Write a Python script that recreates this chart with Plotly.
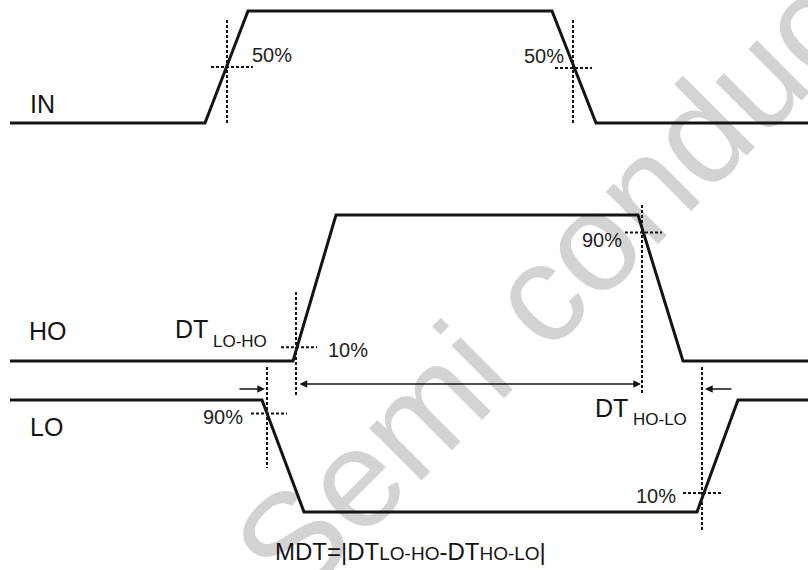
import plotly.graph_objects as go

# ---------------- data (time in arbitrary units, logic levels 0/1) ----------------
IN_t = [10, 205, 248, 552, 596, 808]
IN_lv = [0, 0, 1, 1, 0, 0]
HO_t = [10, 293, 336, 638, 683, 808]
HO_lv = [0, 0, 1, 1, 0, 0]
LO_t = [10, 262, 304, 697, 738, 808]
LO_lv = [1, 1, 0, 0, 1, 1]

signal_names = ["IN", "HO", "LO"]

# threshold markers: signal, crossing time, crossing level (fraction), label
mark_sig = ["IN", "IN", "HO", "HO", "LO", "LO"]
mark_t = [227, 573, 296, 642, 267, 702]
mark_lv = [0.5, 0.49, 0.095, 0.88, 0.88, 0.17]
mark_lbl = ["50%", "50%", "10%", "90%", "90%", "10%"]

# ---------------- layout constants (vertical placement of each trace) ----------------
BASE = {"IN": 447, "HO": 209, "LO": 58}
AMP = {"IN": 112, "HO": 146, "LO": 112}
W, H = 808, 570

# guide extents (vertical top/bottom, horizontal left/right offsets) per marker
V_TOP = [550, 550, 278, 365, 203, 203]
V_BOT = [447, 447, 175, 176, 102, 40]
H_L = [16, 18, 15, 17, 16, 19]
H_R = [26, 19, 21, 20, 20, 19]
# label anchor: side and offsets
LBL_SIDE = ["right", "left", "right", "left", "left", "left"]
LBL_X = [250, 566, 326, 624, 245, 678]
LBL_Y = [515, 514, 220, 330, 153, 74]

FONT = "Liberation Sans, Arial, Helvetica, sans-serif"
INK = "#141414"

fig = go.Figure()

waves = {"IN": (IN_t, IN_lv), "HO": (HO_t, HO_lv), "LO": (LO_t, LO_lv)}
for name in signal_names:
    t, lv = waves[name]
    fig.add_trace(go.Scatter(
        x=t, y=[BASE[name] + AMP[name] * v for v in lv],
        mode="lines", line=dict(color=INK, width=3), hoverinfo="skip"))

# dotted guide lines
gx, gy = [], []
for i, s in enumerate(mark_sig):
    yc = BASE[s] + AMP[s] * mark_lv[i]
    gx += [mark_t[i], mark_t[i], None, mark_t[i] - H_L[i], mark_t[i] + H_R[i], None]
    gy += [V_TOP[i], V_BOT[i], None, yc, yc, None]
fig.add_trace(go.Scatter(x=gx, y=gy, mode="lines",
                         line=dict(color=INK, width=2, dash="3px,2px"),
                         hoverinfo="skip"))

annotations = []
for i in range(len(mark_sig)):
    annotations.append(dict(
        x=LBL_X[i], y=LBL_Y[i], text=mark_lbl[i], showarrow=False,
        xanchor="left" if LBL_SIDE[i] == "right" else "right", yanchor="middle",
        font=dict(family=FONT, size=20, color="#222")))

# signal names
name_pos = {"IN": (28, 466), "HO": (27, 239), "LO": (28, 143)}
for name in signal_names:
    x, y = name_pos[name]
    annotations.append(dict(x=x, y=y, text=name, showarrow=False, xanchor="left",
                            yanchor="middle", font=dict(family=FONT, size=25, color=INK)))

# dead-time labels
annotations += [
    dict(x=173, y=241, text="DT", showarrow=False, xanchor="left", yanchor="middle",
         font=dict(family=FONT, size=25, color=INK)),
    dict(x=211, y=229, text="LO-HO", showarrow=False, xanchor="left", yanchor="middle",
         font=dict(family=FONT, size=17, color=INK)),
    dict(x=593, y=162, text="DT", showarrow=False, xanchor="left", yanchor="middle",
         font=dict(family=FONT, size=25, color=INK)),
    dict(x=631, y=151, text="HO-LO", showarrow=False, xanchor="left", yanchor="middle",
         font=dict(family=FONT, size=17, color=INK)),
    dict(x=410, y=19,
         text="MDT=|DT<span style='font-size:19px'>LO-HO</span>-DT<span style='font-size:19px'>HO-LO</span>|",
         showarrow=False, xanchor="center", yanchor="middle",
         font=dict(family=FONT, size=24, color=INK)),
]

# arrows
arrow_common = dict(text="", showarrow=True, axref="x", ayref="y", arrowcolor=INK,
                    arrowwidth=1.4, arrowhead=2, arrowsize=1.1, standoff=0, startstandoff=0)
annotations += [
    dict(x=641, y=186, ax=298, ay=186, arrowside="end+start", startarrowhead=2,
         startarrowsize=1.1, **arrow_common),
    dict(x=265, y=181, ax=238, ay=181, **arrow_common),
    dict(x=705, y=181, ax=733, ay=181, **arrow_common),
]

fig.update_layout(
    width=W, height=H, margin=dict(l=0, r=0, t=0, b=0),
    paper_bgcolor="white", plot_bgcolor="white", showlegend=False,
    xaxis=dict(range=[0, W], visible=False, fixedrange=True),
    yaxis=dict(range=[0, H], visible=False, fixedrange=True),
    annotations=annotations,
)

# watermark (drawn beneath the traces), text running up-right at 45 degrees
fig.add_shape(type="line", xref="x", yref="y", x0=311, y0=66, x1=877, y1=632,
              layer="below", line=dict(color="rgba(0,0,0,0)", width=0),
              label=dict(text="Semi conductor", textposition="middle", yanchor="middle",
                         font=dict(family=FONT, size=140, color="#d3d3d3")))

fig.write_html("out.html", config={"displayModeBar": False},
               post_script="document.body.style.margin='0px';")
